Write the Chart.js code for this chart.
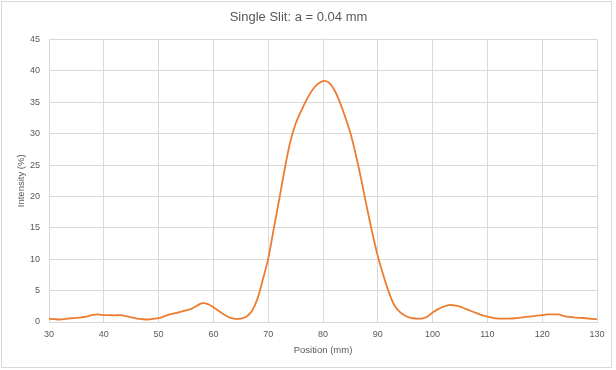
<!DOCTYPE html>
<html>
<head>
<meta charset="utf-8">
<script src="https://cdn.jsdelivr.net/npm/chart.js@4.4.1/dist/chart.umd.min.js"></script>
<style>
  html, body { margin: 0; padding: 0; background: #ffffff; }
  #wrap { position: relative; width: 616px; height: 370px; }
</style>
</head>
<body>
<div id="wrap"><canvas id="c" width="616" height="370"></canvas></div>
<script>
const chartTitle = "Single Slit: a = 0.04 mm";
const xAxisTitle = "Position (mm)";
const yAxisTitle = "Intensity (%)";

const positions = [30,31,32,33,34,35,36,37,38,39,40,41,42,43,44,45,46,47,48,49,50,51,52,53,54,55,56,57,58,59,60,61,62,63,64,65,66,67,68,69,70,71,72,73,74,75,76,77,78,79,80,81,82,83,84,85,86,87,88,89,90,91,92,93,94,95,96,97,98,99,100,101,102,103,104,105,106,107,108,109,110,111,112,113,114,115,116,117,118,119,120,121,122,123,124,125,126,127,128,129,130];
const intensity = [0.55,0.45,0.4,0.5,0.6,0.65,0.75,0.9,1.15,1.2,1.1,1.1,1.05,1.1,0.95,0.75,0.55,0.45,0.4,0.5,0.6,0.9,1.2,1.4,1.6,1.85,2.1,2.6,3.0,2.85,2.35,1.75,1.15,0.7,0.5,0.55,0.85,1.7,3.6,6.7,10.1,14.8,19.5,24.3,28.6,31.6,33.6,35.4,36.9,37.9,38.4,38.2,37.1,35.2,32.8,30.1,26.6,22.6,18.3,14.2,10.5,7.5,4.8,2.7,1.6,1.0,0.65,0.55,0.55,0.85,1.5,2.05,2.45,2.7,2.65,2.45,2.1,1.75,1.4,1.1,0.85,0.65,0.55,0.55,0.55,0.6,0.7,0.8,0.9,1.0,1.1,1.2,1.2,1.2,0.95,0.8,0.7,0.65,0.6,0.5,0.45];

const xTicks = [30,40,50,60,70,80,90,100,110,120,130];
const yTicks = [0,5,10,15,20,25,30,35,40,45];

const points = positions.map((p, i) => ({x: p, y: intensity[i]}));

const FONT = "'Liberation Sans', Arial, sans-serif";
const TEXT = "#595959";
const GRID = "#d9d9d9";

const borderPlugin = {
  id: 'outerBorder',
  afterDraw(chart) {
    const ctx = chart.ctx;
    ctx.save();
    ctx.strokeStyle = GRID;
    ctx.lineWidth = 1;
    ctx.strokeRect(1.5, 1.5, 610, 366);
    ctx.restore();
  }
};

new Chart(document.getElementById('c'), {
  type: 'line',
  data: {
    datasets: [{
      data: points,
      borderColor: '#ED7D31',
      borderWidth: 1.8,
      pointRadius: 0,
      fill: false,
      tension: 0.35
    }]
  },
  options: {
    responsive: false,
    animation: false,
    devicePixelRatio: 1,
    layout: { padding: { left: 0, right: 19, top: 0, bottom: 0 } },
    plugins: {
      legend: { display: false },
      tooltip: { enabled: false },
      title: {
        display: true,
        text: chartTitle,
        color: TEXT,
        font: { family: FONT, size: 13, weight: 'normal' },
        padding: { top: 10, bottom: 14 }
      }
    },
    scales: {
      x: {
        type: 'linear',
        min: 30, max: 130,
        afterBuildTicks(scale) { scale.ticks = xTicks.map(v => ({value: v})); },
        afterFit(scale) { scale.height = 48; },
        grid: { color: GRID, drawTicks: false },
        border: { color: GRID },
        ticks: { color: TEXT, font: { family: FONT, size: 9 }, padding: 7, maxRotation: 0 },
        title: { display: true, text: xAxisTitle, color: TEXT, font: { family: FONT, size: 9.5 }, padding: { top: 0, bottom: 14 } }
      },
      y: {
        min: 0, max: 45,
        afterBuildTicks(scale) { scale.ticks = yTicks.map(v => ({value: v})); },
        afterFit(scale) { scale.width = 49; },
        grid: { color: GRID, drawTicks: false },
        border: { color: GRID },
        ticks: { color: TEXT, font: { family: FONT, size: 9 }, padding: 9 },
        title: { display: true, text: yAxisTitle, color: TEXT, font: { family: FONT, size: 9.5 }, padding: { top: 16, bottom: 0 } }
      }
    }
  },
  plugins: [borderPlugin]
});
</script>
</body>
</html>
